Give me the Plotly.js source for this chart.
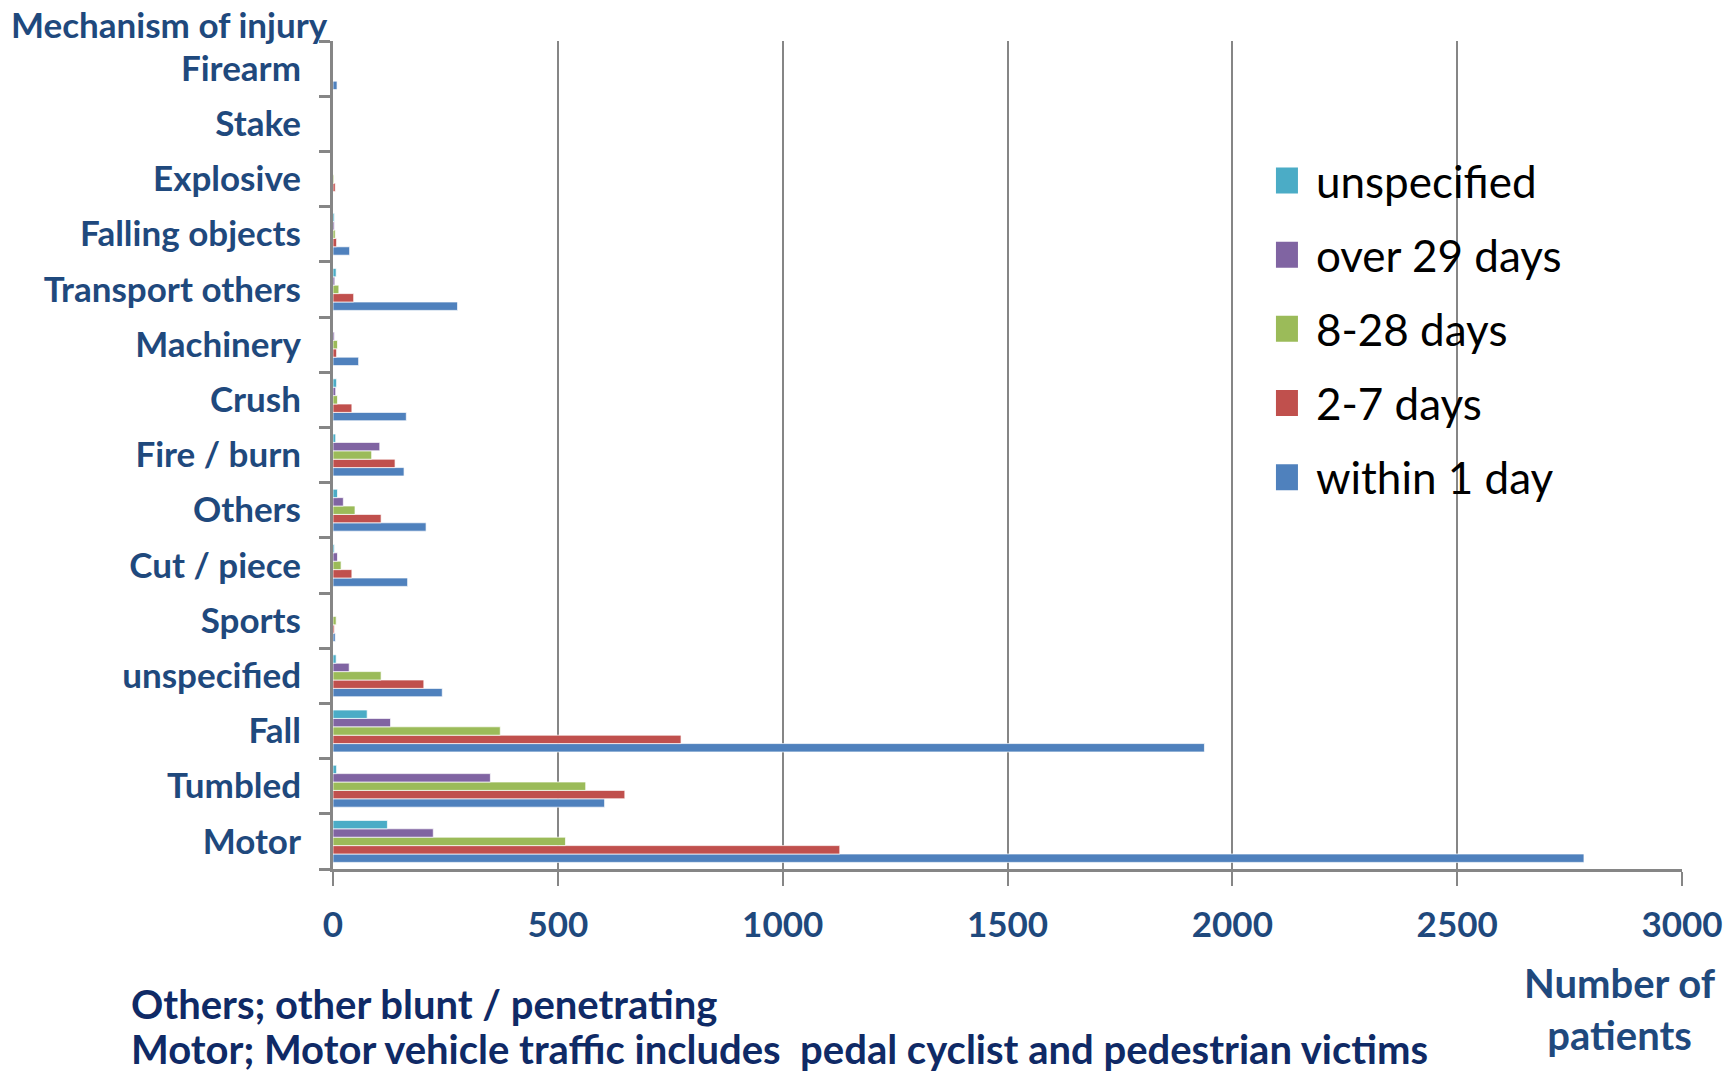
<!DOCTYPE html>
<html>
<head>
<meta charset="utf-8">
<script src="https://cdn.plot.ly/plotly-3.0.1.min.js"></script>
<style>
html,body{margin:0;padding:0;background:#fff;}
#chart{width:1736px;height:1075px;}
</style>
</head>
<body>
<div id="chart"></div>
<script>
// Categories listed bottom to top
const categories = ['Motor','Tumbled','Fall','unspecified','Sports','Cut / piece','Others','Fire / burn','Crush','Machinery','Transport others','Falling objects','Explosive','Stake','Firearm'];

const seriesNames = ['within 1 day','2-7 days','8-28 days','over 29 days','unspecified'];
const within1Day  = [2782, 604, 1938, 243, 5, 166, 207, 158, 163, 57, 277, 37, 0, 0, 9];
const days2to7    = [1127, 649, 774, 202, 3, 42, 107, 138, 42, 8, 46, 8, 5, 0, 0];
const days8to28   = [517, 562, 372, 107, 7, 18, 49, 86, 10, 10, 13, 5, 2, 0, 0];
const over29Days  = [223, 350, 128, 36, 0, 10, 23, 104, 6, 3, 4, 3, 0, 0, 0];
const unspecDays  = [121, 8, 76, 7, 0, 3, 10, 6, 8, 0, 7, 3, 0, 0, 0];

const xTickVals = [0, 500, 1000, 1500, 2000, 2500, 3000];

const seriesValues = [within1Day, days2to7, days8to28, over29Days, unspecDays];
const seriesColors = ['#4F81BD','#C0504D','#9BBB59','#8064A2','#4BACC6'];

const traces = seriesNames.map((name, i) => ({
  type: 'bar',
  orientation: 'h',
  name: name,
  legendgroup: 'g' + i,
  legendrank: seriesNames.length - i,
  y: categories,
  x: seriesValues[i],
  marker: {color: seriesColors[i], line: {color: 'rgba(255,255,255,0.7)', width: 1}},
  hoverinfo: 'x+name'
}));

const labelBlue = '#1F497D';
const noteNavy = '#0F2A66';

const layout = {
  width: 1736,
  height: 1075,
  paper_bgcolor: '#ffffff',
  plot_bgcolor: '#ffffff',
  margin: {l: 333, r: 54, t: 41, b: 206},
  barmode: 'group',
  bargap: 0.24,
  bargroupgap: 0,
  showlegend: true,
  legend: {
    x: 0.699, xanchor: 'left',
    y: 0.874, yanchor: 'top',
    traceorder: 'grouped',
    tracegroupgap: 14,
    font: {family: 'Lato, sans-serif', size: 44, color: '#000000'},
    bgcolor: 'rgba(255,255,255,0)',
    itemclick: false
  },
  xaxis: {
    range: [0, 3000],
    tickvals: xTickVals,
    ticktext: xTickVals.map(String),
    showgrid: true,
    gridcolor: '#868686',
    gridwidth: 2,
    zeroline: false,
    showline: true,
    linecolor: '#868686',
    linewidth: 3,
    ticks: 'outside',
    ticklen: 14,
    tickwidth: 2,
    tickcolor: '#868686',
    ticklabelstandoff: 9,
    tickfont: {family: 'Lato, sans-serif', size: 35, color: labelBlue, weight: 'bold'},
    fixedrange: true
  },
  yaxis: {
    type: 'category',
    categoryorder: 'array',
    categoryarray: categories,
    showgrid: false,
    zeroline: false,
    showline: true,
    linecolor: '#868686',
    linewidth: 3,
    ticks: 'outside',
    tickson: 'boundaries',
    ticklen: 11,
    tickwidth: 3,
    tickcolor: '#868686',
    ticklabelstandoff: 22,
    tickfont: {family: 'Lato, sans-serif', size: 35, color: labelBlue, weight: 'bold'},
    fixedrange: true
  },
  annotations: [
    {text: '<b>Mechanism of injury</b>', xref: 'paper', yref: 'paper',
     x: -0.2405, y: 1.0, xanchor: 'left', yanchor: 'middle', yshift: 17, showarrow: false,
     font: {family: 'Lato, sans-serif', size: 35, color: labelBlue}},
    {text: '<b>Number of<br>patients</b>', xref: 'paper', yref: 'paper',
     x: 0.954, y: 0, xanchor: 'center', yanchor: 'top', yshift: -88, showarrow: false,
     align: 'center',
     font: {family: 'Lato, sans-serif', size: 40, color: labelBlue}},
    {text: '<b>Others; other blunt / penetrating</b>', xref: 'paper', yref: 'paper',
     x: -0.1512, y: 0, xanchor: 'left', yanchor: 'middle', yshift: -135, showarrow: false,
     font: {family: 'Lato, sans-serif', size: 40, color: noteNavy}},
    {text: '<b>Motor; Motor vehicle traffic includes  pedal cyclist and pedestrian victims</b>', xref: 'paper', yref: 'paper',
     x: -0.1512, y: 0, xanchor: 'left', yanchor: 'middle', yshift: -180, showarrow: false,
     font: {family: 'Lato, sans-serif', size: 40, color: noteNavy}}
  ]
};

Plotly.newPlot('chart', traces, layout, {displayModeBar: false}).then(function(gd){
  // enlarge legend swatches to the reference's square keys
  document.querySelectorAll('.legend .legendpoints path').forEach(function(p){
    p.removeAttribute('transform');
    p.setAttribute('d', 'M22,13H-4V-13H22Z');
    p.style.strokeWidth = '0px';
  });
});
</script>
</body>
</html>
